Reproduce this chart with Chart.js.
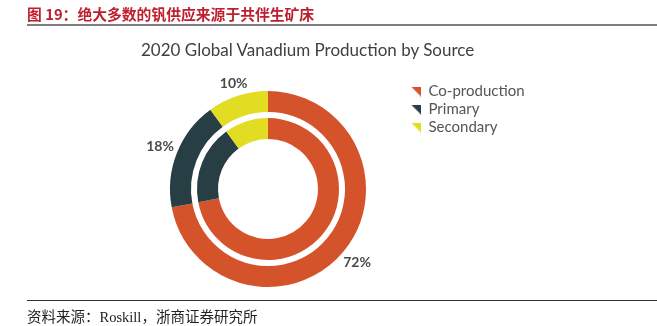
<!DOCTYPE html>
<html>
<head>
<meta charset="utf-8">
<script src="https://cdn.jsdelivr.net/npm/chart.js@4.4.0/dist/chart.umd.min.js"></script>
<style>
  html, body { margin: 0; padding: 0; background: #fff; }
  #page { position: relative; width: 657px; height: 326px; overflow: hidden; }
  #chart { position: absolute; left: 0; top: 0; }
  .header { position: absolute; left: 27px; top: 3px; font: bold 14.8px "Noto Sans CJK SC"; color: #be1e2d; white-space: nowrap; }
  .header-rule { position: absolute; left: 27px; right: 0; top: 24px; height: 2px; background: #7f7f7f; }
  .chart-title { position: absolute; left: 141px; top: 39px; font: 17px Lato; color: #404040; white-space: nowrap; }
  .footer-rule { position: absolute; left: 27px; right: 0; top: 300px; height: 1px; background: #333; }
  .footer { position: absolute; left: 27px; top: 305px; font: 14.5px "Liberation Serif", "Noto Sans CJK SC"; color: #222; white-space: nowrap; }
</style>
</head>
<body>
<div id="page">
  <canvas id="chart" width="657" height="326"></canvas>
  <div class="header">图 19：绝大多数的钒供应来源于共伴生矿床</div>
  <div class="header-rule"></div>
  <div class="chart-title">2020 Global Vanadium Production by Source</div>
  <div class="footer-rule"></div>
  <div class="footer">资料来源：Roskill，浙商证券研究所</div>
</div>
<script>
const categories = ['Co-production', 'Primary', 'Secondary'];
const shares = [72, 18, 10];
const colors = ['#d5532a', '#263e44', '#e2dc22'];

// where the legend column should start (canvas px)
const LEGEND_LEFT = 408;

// corner-triangle legend markers, one per colour
function triangleMarker(color) {
  const c = document.createElement('canvas');
  c.width = 10;
  c.height = 10;
  const g = c.getContext('2d');
  g.fillStyle = color;
  g.beginPath();
  g.moveTo(0, 0);
  g.lineTo(10, 0);
  g.lineTo(10, 10);
  g.closePath();
  g.fill();
  return c;
}
const markers = colors.map(triangleMarker);
const baseLabels = Chart.overrides.doughnut.plugins.legend.labels.generateLabels;

// percentage labels outside the outer ring
const outerLabels = {
  id: 'outerLabels',
  afterDatasetsDraw(chart) {
    const ctx = chart.ctx;
    const meta = chart.getDatasetMeta(0);
    ctx.save();
    ctx.font = 'bold 14px Lato';
    ctx.fillStyle = '#4a4a4a';
    ctx.textAlign = 'center';
    ctx.textBaseline = 'middle';
    meta.data.forEach((arc, i) => {
      const text = shares[i] + '%';
      const w = ctx.measureText(text).width;
      const a = (arc.startAngle + arc.endAngle) / 2;
      const r = arc.outerRadius + 3 + (w / 2) * Math.abs(Math.cos(a)) + 6 * Math.abs(Math.sin(a));
      ctx.fillText(text, arc.x + Math.cos(a) * r, arc.y + Math.sin(a) * r);
    });
    ctx.restore();
  }
};

const chart = new Chart(document.getElementById('chart'), {
  type: 'doughnut',
  data: {
    labels: categories,
    datasets: [
      { data: shares, backgroundColor: colors, borderWidth: 0, weight: 21 },
      { data: shares, backgroundColor: 'rgba(0,0,0,0)', borderWidth: 0, weight: 6 },
      { data: shares, backgroundColor: colors, borderWidth: 0, weight: 21 }
    ]
  },
  options: {
    responsive: false,
    animation: false,
    events: [],
    radius: 98,
    cutout: '51%',
    layout: { padding: { top: 81, bottom: 29, left: 128, right: 100 } },
    plugins: {
      title: { display: false },
      tooltip: { enabled: false },
      legend: {
        position: 'right',
        align: 'start',
        labels: {
          usePointStyle: true,
          pointStyleWidth: 10,
          padding: 3,
          color: '#555',
          font: { family: 'Lato', size: 15 },
          generateLabels: chart => baseLabels(chart).map((item, i) => ({ ...item, pointStyle: markers[i] }))
        }
      }
    }
  },
  plugins: [outerLabels]
});

// pin the legend column so the ring stays centred left of it
chart.options.layout.padding.right = chart.width - LEGEND_LEFT - chart.legend.width;
chart.update();
</script>
</body>
</html>
